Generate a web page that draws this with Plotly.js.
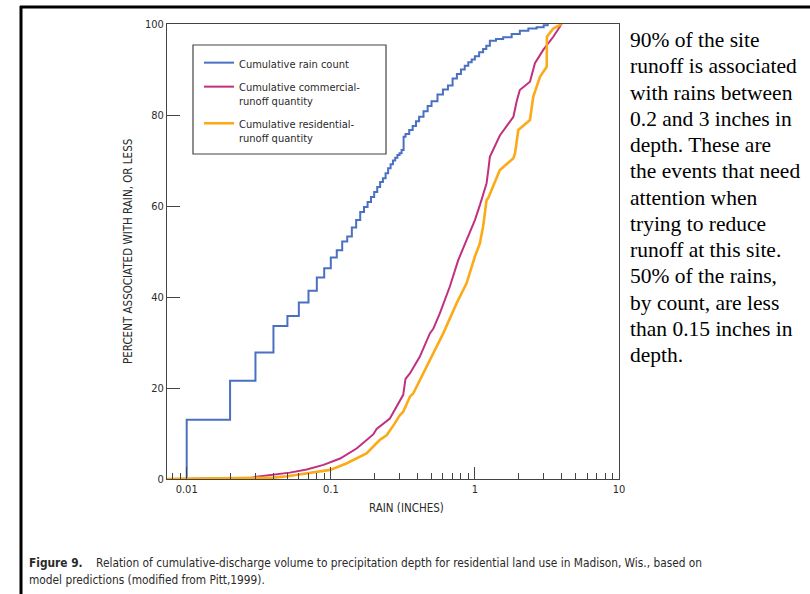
<!DOCTYPE html>
<html>
<head>
<meta charset="utf-8">
<script src="https://cdn.plot.ly/plotly-3.0.1.min.js"></script>
<style>
  html, body { margin: 0; padding: 0; background: #ffffff; }
  #chart { width: 810px; height: 594px; }
</style>
</head>
<body>
<div id="chart"></div>
<script>
// ---------- data ----------
const rainDepth = [0.0073, 0.01, 0.02, 0.03, 0.04, 0.05, 0.06, 0.07, 0.08, 0.09, 0.10, 0.11, 0.12, 0.13, 0.14, 0.15, 0.16, 0.17, 0.18, 0.19, 0.20, 0.21, 0.22, 0.23, 0.24, 0.25, 0.26, 0.27, 0.28, 0.29, 0.30, 0.31, 0.32, 0.33, 0.35, 0.37, 0.39, 0.41, 0.44, 0.47, 0.50, 0.55, 0.60, 0.65, 0.70, 0.75, 0.80, 0.85, 0.90, 0.95, 1.00, 1.07, 1.14, 1.20, 1.27, 1.40, 1.57, 1.80, 2.05, 2.35, 2.68, 3.0, 3.2];
const rainCountPct = [0, 13.0, 21.6, 27.8, 33.6, 35.8, 38.8, 41.4, 44.3, 46.3, 48.7, 50.3, 52.2, 53.3, 55.3, 56.9, 58.7, 59.8, 60.9, 62.0, 63.1, 64.2, 65.3, 66.1, 67.2, 68.3, 69.2, 70.0, 70.6, 71.2, 71.6, 72.3, 75.2, 75.8, 76.7, 77.6, 78.6, 79.6, 80.8, 82.0, 83.0, 84.5, 85.6, 86.5, 88.0, 89.0, 90.0, 90.8, 91.6, 92.2, 92.9, 93.8, 94.5, 95.2, 96.3, 96.7, 97.1, 97.8, 98.5, 99.0, 99.3, 99.7, 100];

const commDepth = [0.0073, 0.028, 0.0305, 0.040, 0.052, 0.068, 0.089, 0.116, 0.151, 0.197, 0.208, 0.257, 0.271, 0.300, 0.318, 0.330, 0.354, 0.415, 0.487, 0.514, 0.571, 0.670, 0.766, 0.875, 1.00, 1.083, 1.11, 1.205, 1.24, 1.27, 1.49, 1.85, 1.95, 2.05, 2.41, 2.61, 2.98, 3.5, 4.0];
const commPct = [0, 0.2, 0.5, 0.9, 1.4, 2.1, 3.1, 4.5, 6.7, 9.8, 11.0, 13.3, 14.6, 17.0, 18.5, 22.0, 23.2, 26.9, 32.0, 33.0, 36.4, 42.3, 48.1, 52.5, 56.9, 60.2, 61.3, 65.0, 68.0, 70.8, 75.5, 79.6, 83.0, 85.5, 87.3, 91.4, 94.3, 97.2, 100];

const resDepth = [0.0073, 0.040, 0.050, 0.068, 0.099, 0.128, 0.159, 0.177, 0.219, 0.244, 0.275, 0.301, 0.318, 0.354, 0.373, 0.420, 0.462, 0.571, 0.603, 0.746, 0.875, 1.00, 1.083, 1.14, 1.205, 1.24, 1.49, 1.85, 1.90, 2.00, 2.41, 2.54, 2.83, 3.15, 3.16, 3.5, 4.0];
const resPct = [0, 0.3, 0.6, 1.2, 2.0, 3.4, 4.8, 5.6, 8.6, 9.6, 12.0, 14.0, 14.8, 18.1, 18.8, 22.0, 24.5, 30.5, 32.0, 38.6, 43.0, 48.9, 51.8, 55.5, 61.3, 61.8, 67.9, 70.5, 71.6, 76.7, 78.9, 84.0, 88.4, 90.6, 97.2, 99.0, 100];

const seriesNames = ["Cumulative rain count", "Cumulative commercial-<br>runoff quantity", "Cumulative residential-<br>runoff quantity"];
const xTickVals = [0.01, 0.1, 1, 10];
const xTickText = ["0.01", "0.1", "1", "10"];
const xMinorVals = [0.008, 0.009, 0.02, 0.03, 0.04, 0.05, 0.06, 0.07, 0.08, 0.09, 0.2, 0.3, 0.4, 0.5, 0.6, 0.7, 0.8, 0.9, 2, 3, 4, 5, 6, 7, 8, 9];
const yTickVals = [0, 20, 40, 60, 80, 100];

const xTitle = "RAIN (INCHES)";
const yTitle = "PERCENT ASSOCIATED WITH RAIN, OR LESS";
const caption1 = "<b>Figure 9.</b>    Relation of cumulative-discharge volume to precipitation depth for residential land use in Madison, Wis., based on";
const caption2 = "model predictions (modified from Pitt,1999).";
const sideLines = ["90% of the site", "runoff is associated", "with rains between", "0.2 and 3 inches in", "depth. These are", "the events that need", "attention when", "trying to reduce", "runoff at this site.", "50% of the rains,", "by count, are less", "than 0.15 inches in", "depth."];

// ---------- layout helpers ----------
const W = 810, H = 594;
const M = {l: 167, r: 191, t: 24, b: 115};
const PW = W - M.l - M.r, PH = H - M.t - M.b;
const px = x => (x - M.l) / PW;
const py = y => (H - M.b - y) / PH;

const narrow = "Liberation Sans Narrow, DejaVu Sans Condensed, Arial Narrow, sans-serif";
const serif = "Liberation Serif, Times New Roman, Times, serif";
const ink = "#2a2a2a";

const traces = [
  {x: rainDepth, y: rainCountPct, name: seriesNames[0], mode: "lines", legendgroup: "a",
   line: {color: "#4a70c2", width: 2, shape: "hv"}},
  {x: commDepth, y: commPct, name: seriesNames[1], mode: "lines", legendgroup: "b",
   line: {color: "#c1307e", width: 2, shape: "linear"}},
  {x: resDepth, y: resPct, name: seriesNames[2], mode: "lines", legendgroup: "c",
   line: {color: "#fbab18", width: 2.6, shape: "linear"}}
];

const annotations = [
  {text: xTitle, xref: "paper", yref: "paper", x: px(406), y: py(508), xanchor: "center", yanchor: "middle", showarrow: false,
   font: {family: narrow, size: 11.5, color: ink}},
  {text: yTitle, xref: "paper", yref: "paper", x: px(128), y: py(252), xanchor: "center", yanchor: "middle", textangle: -90, showarrow: false,
   font: {family: narrow, size: 11.5, color: ink}},
  {text: caption1, xref: "paper", yref: "paper", x: px(27), y: py(563), xanchor: "left", yanchor: "middle", showarrow: false, align: "left",
   font: {family: narrow, size: 11.8, color: ink}},
  {text: caption2, xref: "paper", yref: "paper", x: px(27), y: py(580), xanchor: "left", yanchor: "middle", showarrow: false, align: "left",
   font: {family: narrow, size: 11.8, color: ink}}
];
sideLines.forEach((t, i) => {
  annotations.push({text: t, xref: "paper", yref: "paper", x: px(628), y: py(40 + 26.25 * i),
    xanchor: "left", yanchor: "middle", showarrow: false, align: "left",
    font: {family: serif, size: 21.5, color: "#000"}});
});

const layout = {
  width: W, height: H,
  margin: M,
  paper_bgcolor: "#ffffff",
  plot_bgcolor: "#ffffff",
  showlegend: true,
  legend: {
    x: px(199), y: py(49), xanchor: "left", yanchor: "top",
    bgcolor: "rgba(0,0,0,0)", borderwidth: 0,
    font: {family: narrow, size: 11, color: ink},
    itemwidth: 30, traceorder: "grouped", tracegroupgap: 5, valign: "top"
  },
  xaxis: {
    type: "log",
    range: [Math.log10(0.0073), 1],
    showgrid: false, zeroline: false,
    showline: true, mirror: true, linecolor: "#444", linewidth: 1,
    ticks: "inside", ticklen: 12, tickcolor: "#444", tickwidth: 1,
    tickmode: "array", tickvals: xTickVals, ticktext: xTickText,
    tickfont: {family: narrow, size: 11, color: ink},
    minor: {tickmode: "array", tickvals: xMinorVals, ticks: "inside", ticklen: 6, tickcolor: "#444", tickwidth: 1, showgrid: false}
  },
  yaxis: {
    range: [0, 100],
    showgrid: false, zeroline: false,
    showline: true, mirror: true, linecolor: "#444", linewidth: 1,
    ticks: "inside", ticklen: 13, tickcolor: "#444", tickwidth: 1,
    tickmode: "array", tickvals: yTickVals,
    tickfont: {family: narrow, size: 11, color: ink}
  },
  shapes: [
    {type: "line", xref: "paper", yref: "paper", x0: px(20), x1: px(812), y0: py(7), y1: py(7), line: {color: "#000", width: 3}},
    {type: "line", xref: "paper", yref: "paper", x0: px(21), x1: px(21), y0: py(6), y1: py(600), line: {color: "#000", width: 3}},
    {type: "rect", xref: "paper", yref: "paper", x0: px(193), x1: px(386), y0: py(154), y1: py(45), line: {color: "#444", width: 1.2}, fillcolor: "rgba(0,0,0,0)"}
  ],
  annotations: annotations
};

Plotly.newPlot("chart", traces, layout, {displayModeBar: false, staticPlot: true});
</script>
</body>
</html>
